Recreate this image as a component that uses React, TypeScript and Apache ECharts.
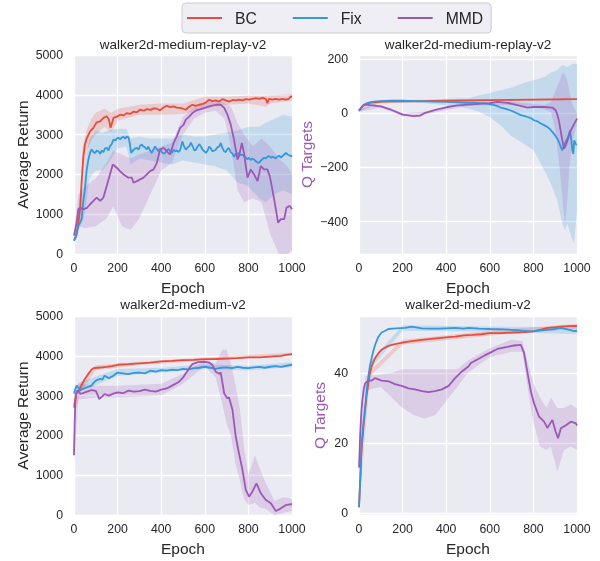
import React, { useEffect, useRef } from "react";
import * as echarts from "echarts";

type P = [number, number];
type B = [number, number, number];

const SERIES_NAMES = ["BC", "Fix", "MMD"];
const COLORS = ["#e74c3c", "#3498db", "#9b59b6"];
const BAND_COLORS = ["rgba(231,76,60,0.2)", "rgba(52,152,219,0.2)", "rgba(155,89,182,0.2)"];
const TITLES = ["walker2d-medium-replay-v2", "walker2d-medium-replay-v2", "walker2d-medium-v2", "walker2d-medium-v2"];
const Y_NAMES = ["Average Return", "Q Targets", "Average Return", "Q Targets"];
const X_TICKS = { min: 0, max: 1000, interval: 200 };

// ---------- top-left: walker2d-medium-replay-v2, Average Return ----------
const tlBC: P[] = [[0,340],[10,450],[20,790],[28,1130],[35,1790],[43,2460],[50,2750],[58,2900],[74,3080],[89,3170],[104,3310],[120,3330],[135,3420],[150,3460],[160,3380],[168,3170],[181,3420],[196,3450],[211,3500],[227,3480],[242,3540],[258,3520],[273,3580],[288,3560],[303,3625],[319,3600],[334,3640],[350,3620],[365,3660],[380,3650],[395,3610],[411,3680],[426,3725],[441,3690],[457,3710],[472,3680],[487,3670],[500,3650],[513,3625],[528,3700],[543,3750],[558,3720],[574,3750],[590,3770],[600,3790],[620,3875],[635,3840],[650,3860],[665,3830],[681,3890],[696,3860],[711,3830],[727,3870],[742,3860],[757,3880],[773,3860],[788,3890],[803,3880],[818,3900],[834,3916],[850,3900],[865,3920],[880,3900],[887,3790],[895,3900],[910,3880],[925,3900],[941,3880],[956,3900],[972,3880],[985,3900],[995,3960],[1000,3950]];
const tlBCBand: B[] = [[0,300,400],[20,650,950],[40,2000,2700],[60,2600,3150],[80,2850,3400],[100,3000,3550],[140,3200,3650],[170,3050,3550],[200,3350,3650],[300,3500,3750],[400,3500,3780],[500,3520,3780],[600,3650,3950],[700,3750,3950],[800,3780,3980],[880,3700,3980],[900,3780,3990],[1000,3850,4020]];
const tlFix: P[] = [[0,330],[10,450],[20,700],[35,875],[42,1300],[50,1625],[58,2100],[66,2375],[74,2550],[81,2625],[89,2560],[97,2540],[104,2600],[112,2580],[120,2520],[128,2600],[135,2560],[142,2650],[150,2670],[158,2600],[165,2710],[173,2760],[181,2875],[190,2850],[196,2900],[204,2920],[212,2880],[220,2930],[227,2940],[235,2900],[242,2950],[250,2930],[256,2780],[262,2540],[270,2600],[280,2650],[288,2670],[296,2620],[303,2720],[311,2750],[319,2700],[326,2680],[334,2625],[341,2700],[349,2600],[357,2540],[364,2620],[372,2700],[380,2640],[387,2580],[395,2640],[403,2560],[411,2520],[418,2540],[426,2600],[434,2640],[441,2590],[449,2540],[457,2620],[465,2580],[472,2600],[480,2560],[487,2620],[497,2830],[505,2700],[513,2625],[522,2680],[530,2720],[536,2800],[545,2700],[552,2600],[559,2620],[567,2700],[575,2760],[582,2700],[590,2620],[598,2580],[605,2540],[613,2600],[620,2700],[627,2660],[635,2580],[643,2600],[650,2620],[658,2680],[666,2700],[673,2790],[681,2660],[689,2580],[696,2560],[704,2640],[711,2660],[719,2560],[727,2520],[734,2440],[742,2520],[750,2500],[757,2540],[765,2480],[773,2500],[780,2460],[788,2420],[796,2380],[803,2420],[811,2360],[818,2400],[826,2375],[834,2330],[842,2300],[849,2290],[857,2350],[864,2380],[872,2420],[880,2400],[887,2440],[895,2460],[903,2420],[910,2440],[918,2430],[926,2400],[933,2450],[941,2470],[949,2420],[956,2460],[964,2500],[972,2540],[980,2500],[987,2480],[995,2460],[1000,2470]];
const tlFixBand: B[] = [[0,300,380],[30,700,1100],[50,1000,2200],[70,1900,2900],[100,2100,3100],[130,2100,3050],[160,2300,3100],[200,2650,3150],[240,2700,3150],[260,2250,2900],[300,2400,2950],[350,2350,2900],[400,2300,2900],[450,2250,2900],[500,2350,3000],[550,2300,2950],[600,2250,2950],[650,2200,3000],[700,2100,3050],[750,1800,3100],[800,1700,3200],[850,1400,3200],[880,1300,3300],[920,1500,3400],[960,1600,3500],[1000,1500,3450]];
const tlMMD: P[] = [[0,460],[12,790],[20,1125],[28,1167],[43,1125],[58,1150],[74,1250],[89,1333],[104,1417],[120,1333],[135,1417],[150,1708],[165,2000],[178,2250],[196,2167],[211,2083],[227,2000],[250,1917],[265,1920],[273,1790],[288,1830],[303,1875],[319,1920],[334,2000],[349,2083],[365,2125],[380,2290],[395,2625],[411,2667],[426,2580],[441,2500],[457,2790],[472,2960],[487,3170],[503,3250],[513,3375],[528,3450],[543,3540],[558,3600],[574,3625],[600,3670],[620,3710],[650,3750],[673,3750],[689,3670],[704,3500],[719,3250],[734,2875],[750,2375],[757,2460],[770,2790],[780,2540],[788,2210],[796,1917],[811,2125],[826,2000],[842,1833],[857,2210],[872,2125],[887,2125],[898,1958],[910,1625],[926,1125],[936,790],[949,875],[964,875],[975,1167],[990,1208],[1000,1125]];
const tlMMDBand: B[] = [[0,350,550],[20,700,1500],[50,650,1700],[100,700,1900],[150,900,2300],[180,1200,2600],[220,700,2500],[260,600,2400],[300,900,2500],[350,1500,2600],[400,2100,2700],[450,2300,2800],[500,3000,3450],[550,3400,3700],[600,3550,3800],[650,3600,3850],[690,3400,3800],[720,2700,3700],[750,1600,3300],[780,1300,3000],[820,1400,2700],[860,1300,2900],[900,500,2700],[940,0,2400],[980,0,2200],[1000,100,2000]];

// ---------- top-right: walker2d-medium-replay-v2, Q Targets ----------
const trBC: P[] = [[0,10],[10,20],[20,28],[30,33],[50,38],[80,41],[120,43],[200,44],[300,45],[400,46],[500,47],[600,48],[700,49],[800,50],[900,51],[1000,52]];
const trBCBand: B[] = [[0,7,13],[100,39,45],[500,44,50],[1000,49,55]];
const trFix: P[] = [[0,8],[10,20],[20,30],[40,38],[60,42],[80,44],[100,45],[150,46],[200,46],[250,45],[300,44],[350,43],[400,42],[450,40],[486,38],[532,38],[578,36],[604,33],[620,30],[635,26],[650,21],[665,18],[681,14],[696,10],[711,5],[727,-1],[742,-7],[757,-10],[773,-14],[788,-18],[803,-26],[818,-30],[834,-38],[849,-44],[864,-51],[875,-58],[887,-69],[898,-80],[910,-94],[918,-108],[926,-125],[933,-137],[938,-125],[944,-112],[950,-100],[956,-94],[962,-80],[968,-63],[974,-100],[979,-137],[983,-150],[987,-100],[992,-110],[998,-118],[1000,-120]];
const trFixBand: B[] = [[0,5,12],[100,40,50],[300,38,50],[450,25,55],[500,17,55],[550,5,65],[600,-14,75],[650,-45,85],[700,-85,95],[750,-110,110],[800,-137,122],[850,-211,134],[880,-260,150],[910,-322,160],[930,-400,178],[945,-433,175],[956,-408,170],[975,-460,180],[987,-482,184],[1000,-359,180]];
const trMMD: P[] = [[0,10],[15,25],[30,32],[60,29],[100,25],[150,12],[200,-5],[250,-11],[280,-9],[300,0],[350,12],[400,22],[450,29],[500,32],[600,37],[635,42],[681,38],[727,30],[773,21],[803,23],[849,23],[887,21],[902,11],[910,-5],[918,-32],[924,-60],[930,-88],[936,-115],[941,-131],[949,-118],[959,-94],[972,-63],[984,-44],[1000,-20]];
const trMMDBand: B[] = [[0,5,15],[100,20,30],[200,-10,0],[300,-5,5],[500,27,37],[700,30,42],[850,15,30],[880,5,40],[900,-60,80],[920,-200,120],[935,-330,150],[945,-410,140],[955,-330,120],[965,-200,80],[980,-100,30],[1000,-40,0]];

// ---------- bottom-left: walker2d-medium-v2, Average Return ----------
const blBC: P[] = [[0,2700],[5,2900],[10,3040],[20,3120],[30,3210],[40,3320],[50,3420],[60,3500],[70,3580],[80,3650],[90,3690],[110,3700],[130,3710],[150,3720],[175,3740],[200,3775],[250,3790],[300,3810],[350,3830],[400,3860],[450,3870],[500,3890],[550,3900],[600,3915],[650,3920],[700,3930],[750,3940],[800,3960],[850,3960],[900,3980],[950,4000],[980,4030],[1000,4040]];
const blBCBand: B[] = [[0,2500,2900],[30,3100,3320],[100,3640,3760],[300,3770,3850],[600,3875,3955],[1000,4000,4080]];
const blFix: P[] = [[0,3050],[5,3150],[12,3250],[20,3200],[25,3125],[40,3170],[60,3210],[80,3250],[90,3320],[100,3375],[120,3420],[130,3400],[140,3500],[160,3440],[180,3500],[200,3580],[225,3560],[250,3540],[275,3570],[300,3580],[325,3560],[350,3625],[375,3600],[400,3640],[425,3630],[450,3650],[475,3640],[500,3670],[525,3660],[550,3690],[575,3700],[600,3725],[625,3700],[650,3670],[675,3700],[700,3710],[725,3690],[750,3720],[775,3700],[800,3690],[825,3710],[850,3720],[875,3700],[900,3725],[925,3740],[950,3720],[975,3750],[1000,3775]];
const blFixBand: B[] = [[0,2950,3150],[20,3080,3320],[100,3260,3480],[200,3490,3670],[400,3580,3700],[600,3660,3790],[800,3630,3750],[1000,3710,3840]];
const blMMD: P[] = [[0,1500],[3,2300],[6,2800],[10,3050],[15,3125],[22,3100],[30,3040],[50,3080],[70,3120],[80,3140],[100,3120],[110,3000],[115,2915],[130,2980],[140,3040],[160,3000],[180,3050],[200,3080],[225,3060],[250,3125],[275,3100],[300,3110],[325,3150],[350,3120],[375,3100],[400,3150],[425,3180],[450,3250],[482,3350],[500,3450],[513,3560],[530,3700],[543,3790],[570,3840],[600,3850],[620,3830],[635,3765],[650,3600],[666,3550],[673,3580],[689,3053],[704,2930],[711,2960],[727,2640],[742,1965],[757,1545],[773,1130],[788,630],[803,460],[818,585],[837,795],[857,545],[880,376],[903,293],[926,100],[949,167],[972,250],[995,275],[1000,260]];
const blMMDBand: B[] = [[0,1300,1700],[20,2900,3300],[100,2950,3250],[200,2950,3250],[400,3000,3300],[500,3300,3550],[600,3750,3900],[650,3450,3800],[680,2800,4150],[700,2300,4150],[720,2000,3800],[740,1300,3300],[760,900,2700],[780,400,1700],[800,250,1000],[830,300,1500],[850,200,1200],[880,150,800],[920,0,350],[960,50,450],[1000,100,400]];

// ---------- bottom-right: walker2d-medium-v2, Q Targets ----------
const brBC: P[] = [[0,1.7],[6,10],[12,18],[20,24],[28,29.3],[35,33.5],[43,37],[50,39.8],[58,41.8],[66,43.2],[74,44.2],[89,45.6],[104,46.6],[120,47.2],[135,47.7],[160,48.1],[181,48.4],[204,48.7],[227,48.9],[260,49.2],[288,49.4],[320,49.6],[365,49.9],[400,50.1],[441,50.3],[482,50.7],[520,50.8],[560,51.0],[600,51.3],[650,51.3],[711,51.5],[760,51.6],[803,51.8],[834,52.3],[864,52.8],[900,53.0],[926,53.2],[960,53.3],[995,53.4],[1000,53.3]];
const brBCBand: B[] = [[0,1.2,2.2],[50,39,40.6],[200,48,49.4],[600,50.6,52],[1000,52.6,54]];
const brFix: P[] = [[0,1.7],[6,10],[12,19.8],[20,25.5],[28,30],[35,35],[43,39],[50,42],[58,44.2],[66,46.3],[74,48],[89,50.3],[104,51.5],[120,52],[135,52.5],[170,52.7],[211,52.8],[242,53.2],[288,52.7],[330,52.6],[365,52.6],[400,52.7],[441,52.8],[480,52.6],[503,52.8],[550,52.6],[600,52.5],[666,52.4],[720,52.2],[788,51.8],[849,52.2],[900,52.5],[926,52.8],[960,52.3],[987,51.9],[1000,52.0]];
const brFixBand: B[] = [[0,1.2,2.2],[50,41,43],[200,52,53.6],[600,51.8,53.2],[1000,51,53]];
const brMMD: P[] = [[0,13],[3,18],[5,22],[10,28],[15,32],[22,35.5],[28,37],[43,37.8],[58,37.8],[74,38.5],[104,37.8],[135,37.6],[165,36.8],[196,36.3],[227,35.6],[257,35.3],[288,34.8],[319,34.5],[349,34.8],[380,35.3],[411,36.3],[441,38.5],[472,40.4],[503,41.9],[513,42.8],[543,43.8],[574,44.9],[600,45.7],[635,46.8],[681,47.4],[711,47.8],[742,48.0],[757,45.7],[773,40],[788,34.8],[803,31.3],[826,27.5],[849,26.1],[864,24.3],[887,26.6],[902,23.3],[913,21.4],[926,24.2],[949,25.1],[972,26.1],[995,25.6],[1000,25.0]];
const brMMDBand: B[] = [[0,10,16],[30,35,39],[100,36,39.5],[150,33,40],[200,30,41],[250,28,41],[300,27,41],[350,28,41],[400,32,41],[450,36,41],[500,40,43.5],[600,44.5,47],[700,46,49.5],[750,46,49],[770,37,44],[800,26,37],[830,19,33],[860,18,30],[880,19,33],[910,12,30],[940,18,30],[970,19,31],[1000,18,30]];

const PANELS = [
  { lines: [tlBC, tlFix, tlMMD], bands: [tlBCBand, tlFixBand, tlMMDBand] },
  { lines: [trBC, trFix, trMMD], bands: [trBCBand, trFixBand, trMMDBand] },
  { lines: [blBC, blFix, blMMD], bands: [blBCBand, blFixBand, blMMDBand] },
  { lines: [brBC, brFix, brMMD], bands: [brBCBand, brFixBand, brMMDBand] },
];

const Y_AXES = [
  { min: 0, max: 5000, interval: 1000 },
  { min: -520, max: 215, splitNumber: 4 },
  { min: 0, max: 5000, interval: 1000 },
  { min: -0.5, max: 56.2, splitNumber: 3 },
];

const FONT = "'Liberation Sans', Arial, Helvetica, sans-serif";
const TEXT = "#262626";

const GRIDS = [
  { left: 74, top: 55, width: 218, height: 199 },
  { left: 359, top: 55, width: 218, height: 199 },
  { left: 74, top: 316, width: 218, height: 199 },
  { left: 359, top: 316, width: 218, height: 199 },
];
const Y_NAME_GAPS = [44, 45, 44, 32];
const TITLE_POS = [[183, 44], [468, 44], [183, 304], [468, 304]];

function bandSeries(band: B[], fill: string, idx: number) {
  return {
    type: "custom",
    xAxisIndex: idx,
    yAxisIndex: idx,
    z: 1,
    silent: true,
    clip: true,
    data: [[band[0][0], band[0][1]]],
    renderItem: (_p: any, api: any) => {
      const pts: number[][] = [];
      for (let i = 0; i < band.length; i++) pts.push(api.coord([band[i][0], band[i][2]]));
      for (let i = band.length - 1; i >= 0; i--) pts.push(api.coord([band[i][0], band[i][1]]));
      return { type: "polygon", shape: { points: pts }, style: { fill, stroke: null } };
    },
  };
}

export default function App() {
  const ref = useRef<HTMLDivElement>(null);
  useEffect(() => {
    if (!ref.current) return;
    const chart = echarts.init(ref.current, null, { renderer: "svg" });
    const series: any[] = [];
    PANELS.forEach((panel, gi) => {
      panel.bands.forEach((b, si) => series.push(bandSeries(b, BAND_COLORS[si], gi)));
      panel.lines.forEach((l, si) =>
        series.push({
          type: "line",
          name: SERIES_NAMES[si],
          xAxisIndex: gi,
          yAxisIndex: gi,
          data: l,
          symbol: "none",
          showSymbol: false,
          z: 2 + si,
          lineStyle: { color: COLORS[si], width: 1.8 },
          itemStyle: { color: COLORS[si] },
          emphasis: { disabled: true },
        })
      );
    });
    const fmt = (v: number) => String(v).replace("-", "\u2212");
    chart.setOption({
      animation: false,
      textStyle: { fontFamily: FONT, color: TEXT },
      grid: GRIDS.map((g) => ({ ...g, show: true, backgroundColor: "#EAEAF2", borderWidth: 0, containLabel: false })),
      xAxis: GRIDS.map((_, i) => ({
        type: "value",
        gridIndex: i,
        ...X_TICKS,
        axisLine: { show: false },
        axisTick: { show: false },
        splitLine: { show: true, lineStyle: { color: "#ffffff", width: 1.3 } },
        axisLabel: { color: TEXT, fontSize: 12.3, margin: 8, fontFamily: FONT, formatter: (v: number) => String(v) },
        name: "Epoch",
        nameLocation: "middle",
        nameGap: 25,
        nameTextStyle: { color: TEXT, fontSize: 15.5, fontFamily: FONT },
      })),
      yAxis: GRIDS.map((_, i) => ({
        type: "value",
        gridIndex: i,
        ...Y_AXES[i],
        axisLine: { show: false },
        axisTick: { show: false },
        splitLine: { show: true, lineStyle: { color: "#ffffff", width: 1.3 } },
        axisLabel: {
          color: TEXT,
          fontSize: 12.3,
          margin: 11,
          fontFamily: FONT,
          formatter: fmt,
          showMinLabel: i % 2 === 0,
          showMaxLabel: i % 2 === 0,
        },
        name: Y_NAMES[i],
        nameLocation: "middle",
        nameRotate: 90,
        nameGap: Y_NAME_GAPS[i],
        nameTextStyle: { color: i % 2 === 1 ? COLORS[2] : TEXT, fontSize: 15.5, fontFamily: FONT },
      })),
      legend: {
        data: SERIES_NAMES.map((n) => ({ name: n, icon: "rect" })),
        left: 182,
        top: 3,
        selectedMode: false,
        itemWidth: 35,
        itemHeight: 2,
        itemGap: 36,
        padding: [7, 8, 7, 5],
        backgroundColor: "#EEEEF4",
        borderColor: "#CCCCCC",
        borderWidth: 1,
        borderRadius: 4,
        textStyle: { color: TEXT, fontSize: 15.7, fontFamily: FONT, padding: [0, 0, 0, 8] },
      },
      graphic: TITLES.map((t, i) => ({
        type: "text",
        x: TITLE_POS[i][0],
        y: TITLE_POS[i][1],
        style: { text: t, fill: TEXT, font: `13.5px ${FONT}`, align: "center", verticalAlign: "middle" },
      })),
      series,
    });
    return () => chart.dispose();
  }, []);
  return <div ref={ref} style={{ position: "fixed", left: 0, top: 0, width: 600, height: 561 }} />;
}
